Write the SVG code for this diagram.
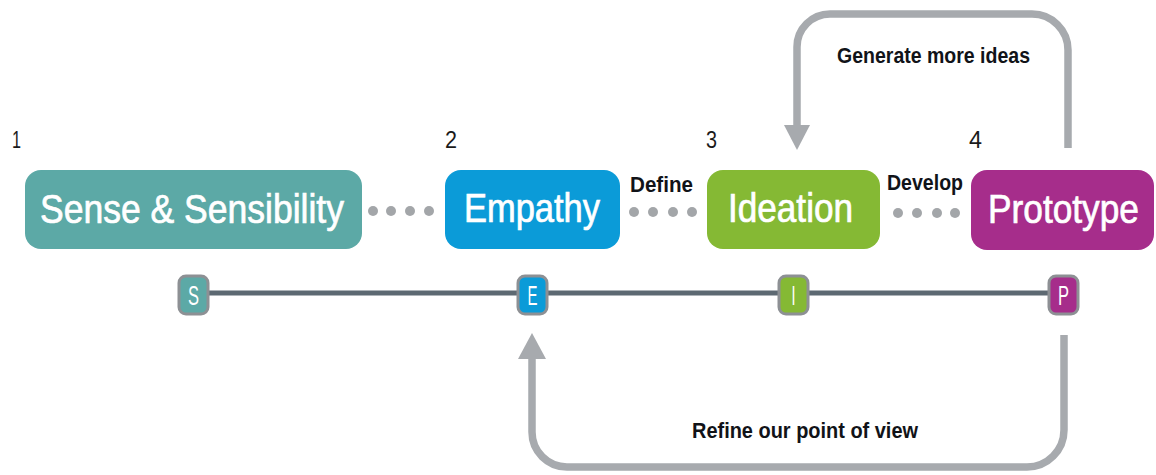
<svg xmlns="http://www.w3.org/2000/svg" width="1156" height="475" viewBox="0 0 1156 475">
  <style>
    .stage { font-family: "Liberation Sans", Arial, sans-serif; fill: #ffffff; stroke: #ffffff; stroke-width: 0.7; font-size: 40px; }
    .num { font-family: "Liberation Sans", Arial, sans-serif; fill: #1a1a1a; font-size: 23px; }
    .lbl { font-family: "Liberation Sans", Arial, sans-serif; font-weight: bold; fill: #111318; font-size: 22px; }
    .badge-txt { font-family: "Liberation Sans", Arial, sans-serif; fill: #ffffff; font-size: 28px; text-anchor: middle; }
    .badge { stroke: #8d9094; stroke-width: 3; }
    .dot { fill: #a3a6a9; }
    .loop { fill: none; stroke: #a7aaae; stroke-width: 7.5; }
    .head { fill: #a7aaae; }
  </style>

  <!-- feedback loops, dotted links and the timeline -->
  <g id="connectors">
    <!-- timeline -->
    <line x1="193" y1="293" x2="1063" y2="293" stroke="#5d6972" stroke-width="5"/>

    <!-- dotted links between stages -->
    <g id="dots-s-e">
      <circle class="dot" cx="373" cy="211" r="5"/>
      <circle class="dot" cx="391" cy="211" r="5"/>
      <circle class="dot" cx="410" cy="211" r="5"/>
      <circle class="dot" cx="429" cy="211" r="5"/>
    </g>
    <g id="dots-e-i">
      <circle class="dot" cx="634" cy="212" r="5"/>
      <circle class="dot" cx="653" cy="212" r="5"/>
      <circle class="dot" cx="673" cy="212" r="5"/>
      <circle class="dot" cx="692" cy="212" r="5"/>
    </g>
    <g id="dots-i-p">
      <circle class="dot" cx="898" cy="213" r="5"/>
      <circle class="dot" cx="917" cy="213" r="5"/>
      <circle class="dot" cx="937" cy="213" r="5"/>
      <circle class="dot" cx="955" cy="213" r="5"/>
    </g>
    <text class="lbl" x="630" y="192" textLength="63" lengthAdjust="spacingAndGlyphs">Define</text>
    <text class="lbl" x="887" y="190" textLength="76" lengthAdjust="spacingAndGlyphs">Develop</text>

    <!-- Prototype back to Ideation -->
    <path class="loop" d="M1068,148 V50 A36,36 0 0 0 1032,14 H830 A33,33 0 0 0 797,47 V126"/>
    <polygon class="head" points="784,125 810,125 797,150"/>
    <text class="lbl" x="837" y="63" textLength="193" lengthAdjust="spacingAndGlyphs">Generate more ideas</text>

    <!-- Prototype back to Empathy -->
    <path class="loop" d="M1064,335 V430 A37,37 0 0 1 1027,467 H567 A35,35 0 0 1 532,432 V357"/>
    <polygon class="head" points="518,359 546,359 532,333"/>
    <text class="lbl" x="692" y="438" textLength="226" lengthAdjust="spacingAndGlyphs">Refine our point of view</text>
  </g>

  <!-- stage 1 -->
  <g id="sense-sensibility">
    <text class="num" x="12" y="148" textLength="9" lengthAdjust="spacingAndGlyphs">1</text>
    <rect x="25" y="170" width="337" height="79" rx="16" fill="#5ca9a6"/>
    <text class="stage" x="40" y="223" textLength="304" lengthAdjust="spacingAndGlyphs">Sense &amp; Sensibility</text>
  </g>

  <!-- stage 2 -->
  <g id="empathy">
    <text class="num" x="445" y="148" textLength="12" lengthAdjust="spacingAndGlyphs">2</text>
    <rect x="445" y="170" width="175" height="79" rx="16" fill="#0b9bd8"/>
    <text class="stage" x="464" y="222" textLength="136" lengthAdjust="spacingAndGlyphs">Empathy</text>
  </g>

  <!-- stage 3 -->
  <g id="ideation">
    <text class="num" x="706" y="148" textLength="11" lengthAdjust="spacingAndGlyphs">3</text>
    <rect x="707" y="170" width="173" height="79" rx="16" fill="#85b934"/>
    <text class="stage" x="728" y="222" textLength="125" lengthAdjust="spacingAndGlyphs">Ideation</text>
  </g>

  <!-- stage 4 -->
  <g id="prototype">
    <text class="num" x="969" y="148" textLength="13" lengthAdjust="spacingAndGlyphs">4</text>
    <rect x="971" y="170" width="183" height="80" rx="16" fill="#a62d8b"/>
    <text class="stage" x="988" y="223" textLength="151" lengthAdjust="spacingAndGlyphs">Prototype</text>
  </g>

  <!-- timeline badges -->
  <g id="badge-s">
    <rect class="badge" x="179" y="276" width="29" height="38" rx="7" fill="#5ca9a6"/>
    <text class="badge-txt" x="193.5" y="305" textLength="11" lengthAdjust="spacingAndGlyphs">S</text>
  </g>
  <g id="badge-e">
    <rect class="badge" x="518" y="276" width="29" height="38" rx="7" fill="#0b9bd8"/>
    <text class="badge-txt" x="532.5" y="305" textLength="10" lengthAdjust="spacingAndGlyphs">E</text>
  </g>
  <g id="badge-i">
    <rect class="badge" x="779" y="276" width="29" height="38" rx="7" fill="#85b934"/>
    <text class="badge-txt" x="793.5" y="305" textLength="4" lengthAdjust="spacingAndGlyphs">I</text>
  </g>
  <g id="badge-p">
    <rect class="badge" x="1049" y="276" width="29" height="38" rx="7" fill="#a62d8b"/>
    <text class="badge-txt" x="1063.5" y="305" textLength="11" lengthAdjust="spacingAndGlyphs">P</text>
  </g>
</svg>
